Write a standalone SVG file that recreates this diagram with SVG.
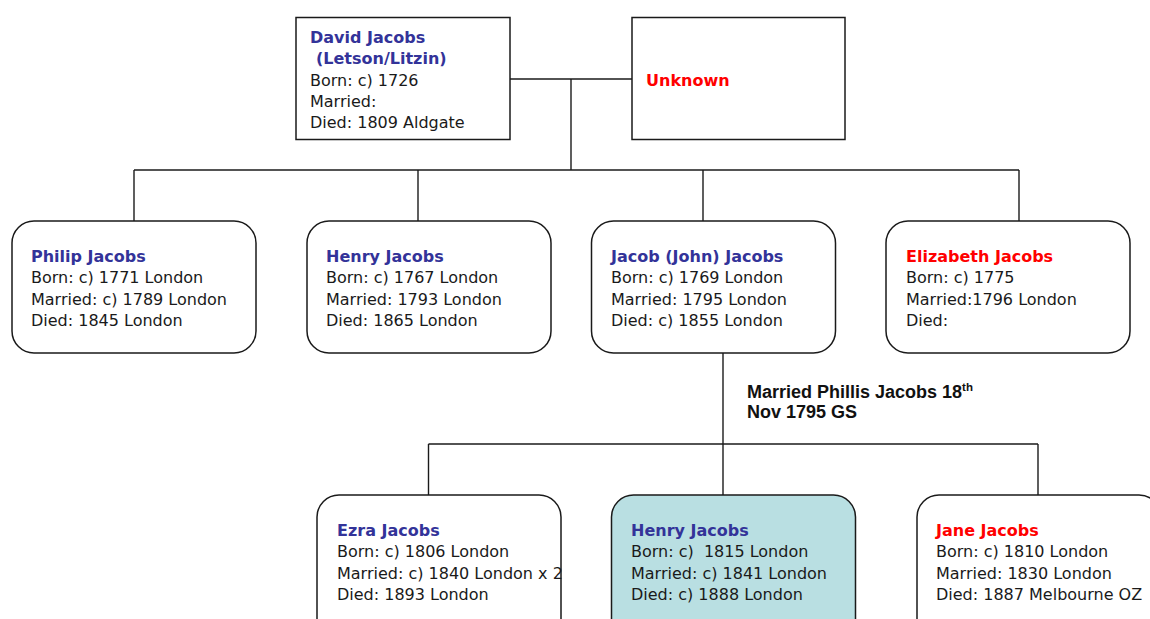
<svg xmlns="http://www.w3.org/2000/svg" width="1150" height="619" viewBox="0 0 1150 619">
<style>
.box{fill:#ffffff;stroke:#1a1a1a;stroke-width:1.5}
.hl{fill:#b9dfe2}
.conn line{stroke:#1a1a1a;stroke-width:1.4}
text{font-family:"DejaVu Sans",Verdana,sans-serif;font-size:16px;fill:#1a1a1a}
.nm{font-weight:bold;fill:#333399}
.red{font-weight:bold;fill:#ff0000}
.lbl{font-family:"Liberation Sans",Arial,sans-serif;font-weight:bold;font-size:18px;fill:#111}
</style>
<rect width="1150" height="619" fill="#ffffff"/>
<g id="connectors" class="conn">
<line x1="510" y1="79" x2="632" y2="79"/>
<line x1="571" y1="79" x2="571" y2="170"/>
<line x1="134" y1="170" x2="1019" y2="170"/>
<line x1="134" y1="170" x2="134" y2="221"/>
<line x1="418" y1="170" x2="418" y2="221"/>
<line x1="703" y1="170" x2="703" y2="221"/>
<line x1="1019" y1="170" x2="1019" y2="221"/>
<line x1="723" y1="353" x2="723" y2="495"/>
<line x1="428.5" y1="444" x2="1038" y2="444"/>
<line x1="428.5" y1="444" x2="428.5" y2="495"/>
<line x1="1038" y1="444" x2="1038" y2="495"/>
</g>
<g id="label-marriage">
<text class="lbl" x="747" y="398">Married Phillis Jacobs 18<tspan font-size="11.5" dy="-7">th</tspan></text>
<text class="lbl" x="747" y="418">Nov 1795 GS</text>
</g>
<g id="david">
<rect class="box" x="296" y="17.5" width="214" height="122"/>
<text class="nm" x="310" y="43">David Jacobs</text>
<text class="nm" x="316" y="64">(Letson/Litzin)</text>
<text x="310" y="86">Born: c) 1726</text>
<text x="310" y="107">Married:</text>
<text x="310" y="128">Died: 1809 Aldgate</text>
</g>
<g id="unknown">
<rect class="box" x="632" y="17.5" width="213" height="122"/>
<text class="red" x="646" y="86">Unknown</text>
</g>
<g id="philip">
<rect class="box" x="12" y="221" width="244" height="132" rx="22"/>
<text class="nm" x="31" y="262">Philip Jacobs</text>
<text x="31" y="283">Born: c) 1771 London</text>
<text x="31" y="305">Married: c) 1789 London</text>
<text x="31" y="326">Died: 1845 London</text>
</g>
<g id="henry1">
<rect class="box" x="307" y="221" width="244" height="132" rx="22"/>
<text class="nm" x="326" y="262">Henry Jacobs</text>
<text x="326" y="283">Born: c) 1767 London</text>
<text x="326" y="305">Married: 1793 London</text>
<text x="326" y="326">Died: 1865 London</text>
</g>
<g id="jacob">
<rect class="box" x="591.5" y="221" width="244" height="132" rx="22"/>
<text class="nm" x="611" y="262">Jacob (John) Jacobs</text>
<text x="611" y="283">Born: c) 1769 London</text>
<text x="611" y="305">Married: 1795 London</text>
<text x="611" y="326">Died: c) 1855 London</text>
</g>
<g id="elizabeth">
<rect class="box" x="886" y="221" width="244" height="132" rx="22"/>
<text class="red" x="906" y="262">Elizabeth Jacobs</text>
<text x="906" y="283">Born: c) 1775</text>
<text x="906" y="305">Married:1796 London</text>
<text x="906" y="326">Died:</text>
</g>
<g id="ezra">
<rect class="box" x="317" y="495" width="244" height="150" rx="22"/>
<text class="nm" x="337" y="536">Ezra Jacobs</text>
<text x="337" y="557">Born: c) 1806 London</text>
<text x="337" y="579">Married: c) 1840 London x 2</text>
<text x="337" y="600">Died: 1893 London</text>
</g>
<g id="henry2">
<rect class="box hl" x="611.5" y="495" width="244" height="150" rx="22"/>
<text class="nm" x="631" y="536">Henry Jacobs</text>
<text x="631" y="557" xml:space="preserve">Born: c)  1815 London</text>
<text x="631" y="579">Married: c) 1841 London</text>
<text x="631" y="600">Died: c) 1888 London</text>
</g>
<g id="jane">
<rect class="box" x="917" y="495" width="244" height="150" rx="22"/>
<text class="red" x="936" y="536">Jane Jacobs</text>
<text x="936" y="557">Born: c) 1810 London</text>
<text x="936" y="579">Married: 1830 London</text>
<text x="936" y="600">Died: 1887 Melbourne OZ</text>
</g>
</svg>
